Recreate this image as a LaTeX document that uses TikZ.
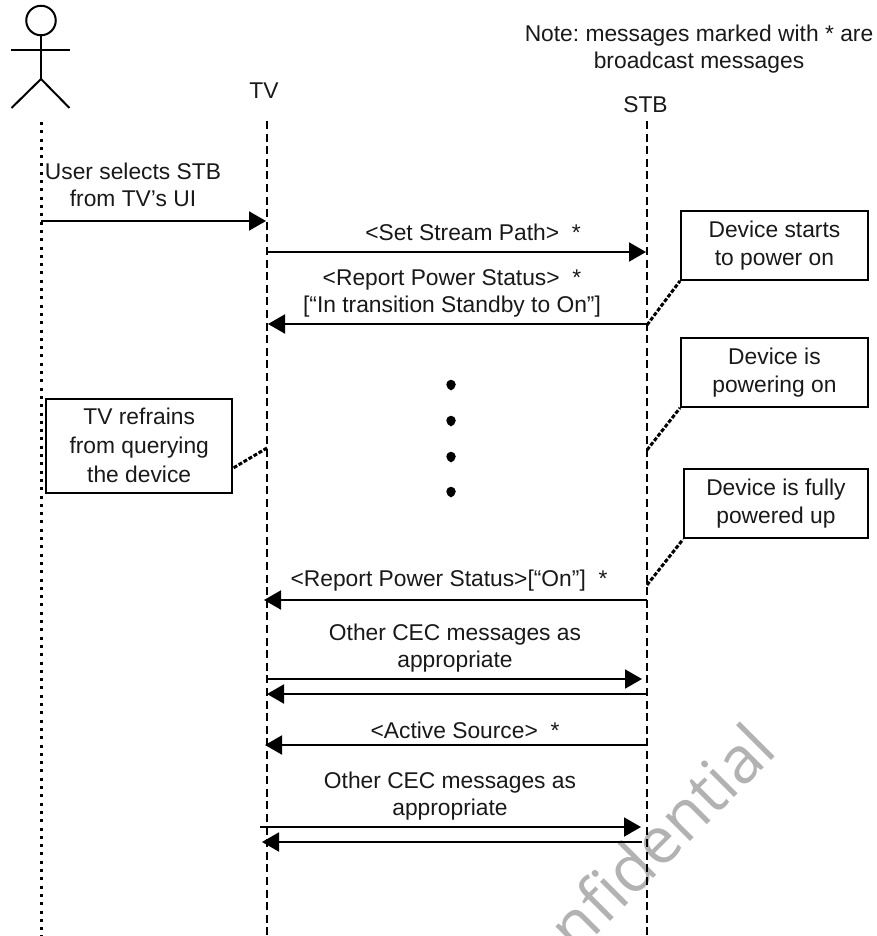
\documentclass[tikz,border=0pt]{standalone}
\usepackage{fontspec}
\setmainfont{Liberation Sans}
\newfontfamily\wmfont{Open Sans}
\usetikzlibrary{arrows.meta}
\frenchspacing
\tikzset{
  lbl/.style={inner sep=0pt,align=center,font=\frenchspacing\fontsize{22.8}{27}\selectfont,text=black!90},
  notebox/.style={draw,line width=2.4pt,inner sep=0pt,align=center,font=\fontsize{22.8}{28}\selectfont,anchor=north west,text=black!90},
  msg/.style={line width=2pt,-{Triangle[length=17pt,width=19pt]}},
  life/.style={line width=2pt,dash pattern=on 8pt off 4.6pt},
  userlife/.style={line width=3pt,dash pattern=on 3pt off 5.3pt},
  callout/.style={line width=3pt,dash pattern=on 4pt off 1.8pt},
  actorline/.style={line width=2pt},
  dotmark/.style={circle,fill=black,inner sep=0pt,minimum size=9.5pt}
}
\begin{document}
\begin{tikzpicture}[x=1pt,y=-1pt]
\useasboundingbox (0,0) rectangle (877,936);
% watermark
\begin{scope}
\clip (0,0) rectangle (877,936);
\node[anchor=base east,rotate=45,inner sep=0pt,text=black!30,font=\wmfont\fontsize{65}{65}\selectfont] (wm) at (779.7,752.3) {Confidential};
\end{scope}
% actor
\node[draw,circle,line width=2pt,minimum size=29.5pt,inner sep=0pt] (head) at (41,20.5) {};
\coordinate (hip) at (41,79);
\coordinate (armL) at (11,50);
\coordinate (armR) at (70,50);
\coordinate (legL) at (11.5,108);
\coordinate (legR) at (69.5,108);
\draw[actorline] (head.south) -- (hip);
\draw[actorline] (armL) -- (armR);
\draw[actorline] (legL) -- (hip) -- (legR);
% lifelines
\coordinate (uT) at (41,122); \coordinate (uB) at (41,936);
\coordinate (tT) at (267,121); \coordinate (tB) at (267,936);
\coordinate (sT) at (647,121); \coordinate (sB) at (647,936);
\draw[userlife] (uT) -- (uB);
\draw[life] (tT) -- (tB);
\draw[life] (sT) -- (sB);
% headings
\node[lbl] (tvl) at (264,91) {TV};
\node[lbl] (stbl) at (645.5,105) {STB};
\node[lbl] (note) at (699,49.5) {Note: messages marked with * are\\broadcast messages};
% messages
\node[lbl] (m1) at (133,185) {User selects STB\\from TV’s UI};
\coordinate (a1s) at (41,221); \coordinate (a1e) at (266,221);
\draw[msg] (a1s) -- (a1e);
\node[lbl] (m2) at (473,232) {<Set Stream Path>~~*};
\coordinate (a2s) at (267,252); \coordinate (a2e) at (646,252);
\draw[msg] (a2s) -- (a2e);
\node[lbl] (m3) at (452,293.5) {<Report Power Status>~~*\\{[}“In transition Standby to On”{]}};
\coordinate (a3s) at (647,324); \coordinate (a3e) at (268,324);
\draw[msg] (a3s) -- (a3e);
\node[lbl] (m4) at (449,581) {<Report Power Status>{[}“On”{]}~~*};
\coordinate (a4s) at (647,600); \coordinate (a4e) at (264,600);
\draw[msg] (a4s) -- (a4e);
\node[lbl] (m5) at (455,648) {Other CEC messages as\\appropriate};
\coordinate (a5s) at (266,679); \coordinate (a5e) at (642,679);
\draw[msg] (a5s) -- (a5e);
\coordinate (a6s) at (647,694); \coordinate (a6e) at (267,694);
\draw[msg] (a6s) -- (a6e);
\node[lbl] (m6) at (465,730) {<Active Source>~~*};
\coordinate (a7s) at (647,745); \coordinate (a7e) at (265,745);
\draw[msg] (a7s) -- (a7e);
\node[lbl] (m7) at (450,796) {Other CEC messages as\\appropriate};
\coordinate (a8s) at (260,827); \coordinate (a8e) at (641,827);
\draw[msg] (a8s) -- (a8e);
\coordinate (a9s) at (642,842); \coordinate (a9e) at (262,842);
\draw[msg] (a9s) -- (a9e);
% dots
\foreach \n/\yy in {d1/384.5,d2/420.5,d3/456.5,d4/491.5}{
  \node[dotmark] (\n) at (451,\yy) {};
  \fill (\n.south west) -- (\n.south east) -- ([yshift=-1pt]\n.south) -- cycle;
}
% boxes
\node[notebox,minimum width=186.5pt,minimum height=69pt] (b1) at (680,209.5) {Device starts\\to power on};
\node[notebox,minimum width=186.5pt,minimum height=69pt] (b2) at (680,336.5) {Device is\\powering on};
\node[notebox,minimum width=183.5pt,minimum height=69pt] (b3) at (683,468) {Device is fully\\powered up};
\node[notebox,minimum width=186pt,minimum height=94pt,font=\fontsize{22.8}{29}\selectfont] (b4) at (45,397.5) {TV refrains\\from querying\\the device};
% callouts
\coordinate (c1) at (647,325); \coordinate (c2) at (647,450); \coordinate (c3) at (647,585); \coordinate (c4) at (267,448);
\draw[callout] (c1) -- (b1.south west);
\draw[callout] (c2) -- (b2.south west);
\draw[callout] (c3) -- (b3.south west);
\draw[callout] (c4) -- ([yshift=26pt]b4.south east);
\end{tikzpicture}
\end{document}
